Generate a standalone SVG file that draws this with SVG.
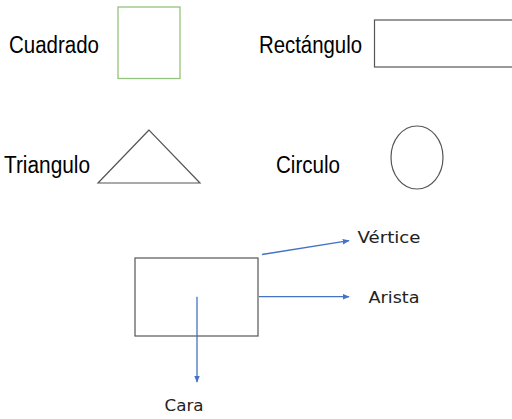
<svg xmlns="http://www.w3.org/2000/svg" width="512" height="419" viewBox="0 0 512 419">
<style>
.lbl{font-family:"Liberation Sans",Arial,sans-serif;font-size:23px;fill:#000}
.sm{font-family:"DejaVu Sans","Liberation Sans",sans-serif;font-size:15px;fill:#222}
.shape{fill:none;stroke:#555;stroke-width:1.2}
.conn{stroke:#4472C4;stroke-width:1.3;fill:none;marker-end:url(#ah)}
</style>
<defs>
<marker id="ah" viewBox="0 0 10 10" refX="9" refY="5" markerWidth="7" markerHeight="7" orient="auto" markerUnits="userSpaceOnUse">
<path d="M0,1 L10,5 L0,9 z" fill="#4472C4"/>
</marker>
</defs>
<rect width="512" height="419" fill="#fff"/>
<g id="cuadrado">
<text class="lbl" x="9" y="53" textLength="90" lengthAdjust="spacingAndGlyphs">Cuadrado</text>
<rect x="118" y="7" width="62" height="71.5" fill="none" stroke="#93C47D" stroke-width="1.3"/>
</g>
<g id="rectangulo">
<text class="lbl" x="259" y="53" textLength="103" lengthAdjust="spacingAndGlyphs">Rectángulo</text>
<rect x="374.5" y="20" width="150" height="47" class="shape"/>
</g>
<g id="triangulo">
<text class="lbl" x="4" y="173" textLength="86" lengthAdjust="spacingAndGlyphs">Triangulo</text>
<polygon points="149,130 98,183 200,183" class="shape"/>
</g>
<g id="circulo">
<text class="lbl" x="276" y="173" textLength="64" lengthAdjust="spacingAndGlyphs">Circulo</text>
<ellipse cx="417" cy="157.5" rx="26" ry="31.5" class="shape"/>
</g>
<g id="cara-rect">
<rect x="135" y="258" width="123" height="78" class="shape"/>
</g>
<g id="connectors">
<line x1="262" y1="254.5" x2="349" y2="240.7" class="conn"/>
<line x1="259" y1="296.7" x2="349" y2="296.7" class="conn"/>
<line x1="197" y1="296.7" x2="197" y2="382" class="conn"/>
</g>
<g id="vertice">
<text class="sm" x="357.5" y="243" textLength="63" lengthAdjust="spacingAndGlyphs">Vértice</text>
</g>
<g id="arista">
<text class="sm" x="368.5" y="302.5" textLength="51" lengthAdjust="spacingAndGlyphs">Arista</text>
</g>
<g id="cara">
<text class="sm" x="164.5" y="411" textLength="39" lengthAdjust="spacingAndGlyphs">Cara</text>
</g>
</svg>
